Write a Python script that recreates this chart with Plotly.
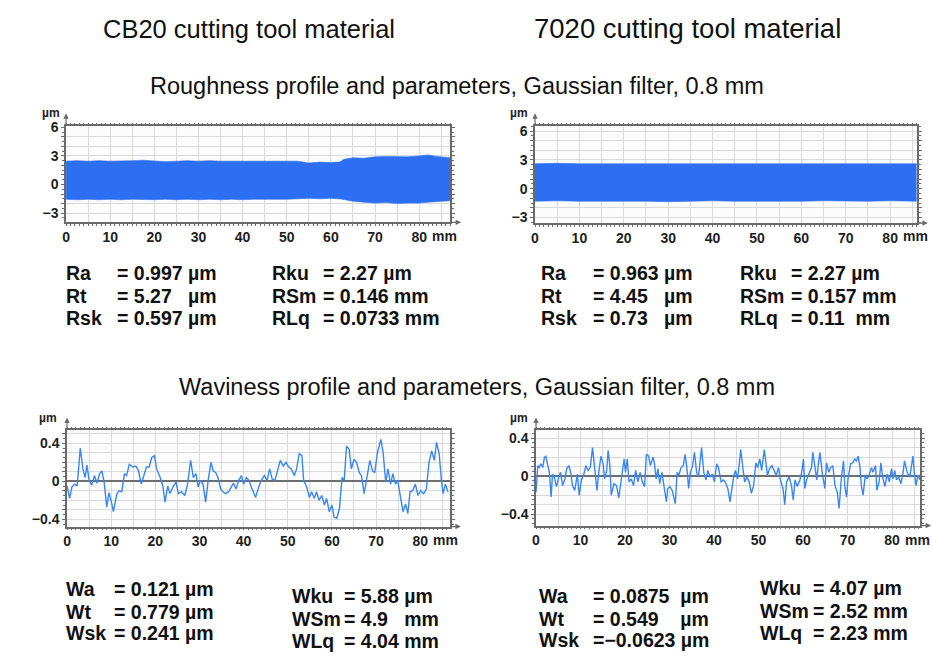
import plotly.graph_objects as go

# ---------------- data ----------------
# Roughness profiles (dense signal shown as its upper / lower envelope), mm vs µm
rough_cb20_x = [0, 2.5, 5, 7.5, 10, 12.5, 15, 17.5, 20, 22.5, 25, 27.5, 30, 32.5, 35, 37.5, 40, 42.5,
                45, 47.5, 50, 52.5, 55, 57.5, 60, 62, 63, 65, 67.5, 70, 72.5, 75, 77.5, 80, 82, 84, 87]
rough_cb20_upper = [2.45, 2.5, 2.45, 2.5, 2.45, 2.45, 2.5, 2.55, 2.45, 2.4, 2.45, 2.5, 2.45, 2.5, 2.45,
                    2.45, 2.5, 2.45, 2.45, 2.5, 2.45, 2.45, 2.25, 2.35, 2.3, 2.35, 2.65, 2.8, 2.75, 2.9,
                    2.95, 2.95, 2.9, 3.0, 3.1, 2.95, 2.8]
rough_cb20_lower = [-1.55, -1.6, -1.55, -1.6, -1.55, -1.6, -1.55, -1.6, -1.6, -1.55, -1.6, -1.55, -1.6,
                    -1.55, -1.6, -1.55, -1.6, -1.55, -1.55, -1.6, -1.55, -1.5, -1.45, -1.5, -1.45, -1.5,
                    -1.6, -1.75, -1.85, -1.95, -1.9, -2.0, -1.95, -1.95, -1.85, -1.8, -1.7]

rough_7020_x = [0, 5, 10, 15, 20, 25, 30, 35, 40, 45, 50, 55, 60, 65, 70, 75, 80, 85, 86]
rough_7020_upper = [2.6, 2.65, 2.6, 2.6, 2.65, 2.6, 2.6, 2.65, 2.6, 2.6, 2.65, 2.6, 2.6, 2.65, 2.6,
                    2.6, 2.65, 2.6, 2.6]
rough_7020_lower = [-1.3, -1.25, -1.3, -1.3, -1.25, -1.3, -1.35, -1.3, -1.25, -1.3, -1.3, -1.35, -1.3,
                    -1.25, -1.3, -1.3, -1.25, -1.3, -1.3]

# Waviness profiles, mm vs µm
wav_cb20_x = [0, 0.6, 1.1, 1.7, 2.3, 3.0, 3.6, 4.1, 4.5, 5.0, 5.6, 6.2, 6.8, 7.4, 7.9, 8.4, 9.0, 9.5,
              10.2, 10.5, 11.3, 11.8, 12.4, 13.0, 13.5, 14.1, 14.9, 15.6, 16.2, 16.8, 17.4, 18.0, 18.6,
              19.2, 19.8, 20.3, 21.1, 21.7, 22.2, 22.8, 23.3, 24.1, 24.7, 25.2, 25.9, 26.7, 27.3, 28.0,
              28.6, 29.2, 29.7, 30.2, 30.8, 31.4, 32.0, 32.6, 33.1, 33.7, 34.2, 34.8, 35.3, 35.9, 36.6,
              37.2, 37.7, 38.3, 38.9, 39.5, 40.0, 40.6, 41.2, 41.9, 42.7, 43.5, 44.0, 44.7, 45.3, 45.9,
              46.5, 47.1, 47.7, 48.3, 49.0, 49.6, 50.2, 50.8, 51.5, 52.0, 52.6, 53.2, 53.6, 54.3, 54.9,
              55.4, 56.0, 56.5, 57.1, 57.7, 58.3, 58.8, 59.4, 60.0, 60.5, 61.1, 61.7, 62.3, 62.8, 63.3,
              63.9, 64.4, 65.0, 65.6, 66.2, 66.7, 67.3, 67.9, 68.6, 69.2, 69.7, 70.3, 71.1, 71.6, 72.2,
              72.7, 73.3, 73.8, 74.4, 74.9, 75.5, 76.1, 76.7, 77.2, 77.7, 78.3, 78.9, 79.5, 80.1, 80.8,
              81.4, 82.0, 82.6, 83.2, 83.7, 84.3, 84.8, 85.2, 85.7, 86.3]
wav_cb20_y = [-0.05, -0.18, -0.06, -0.03, -0.05, 0.35, 0.13, 0.04, 0.17, 0.01, -0.04, 0.06, -0.02, 0.08,
              0.11, -0.01, -0.27, -0.12, -0.25, -0.32, -0.13, -0.10, -0.11, 0.08, 0.06, 0.18, 0.15, 0.16,
              0.11, -0.03, 0.06, 0.15, 0.15, 0.25, 0.27, 0.13, 0.04, -0.05, -0.22, -0.05, -0.13, -0.05,
              -0.01, -0.13, -0.11, -0.15, -0.03, 0.22, 0.04, 0.08, -0.06, 0.01, -0.03, -0.22, 0.02, 0.20,
              0.11, 0.09, 0.04, -0.08, -0.11, -0.13, -0.11, -0.06, -0.02, -0.08, 0.01, 0.06, -0.03, 0.04,
              0.01, -0.08, -0.17, -0.05, 0.01, 0.06, 0.01, 0.13, 0.02, 0.01, 0.11, 0.22, 0.16, 0.20, 0.15,
              0.13, 0.06, 0.13, 0.29, 0.27, 0.01, -0.06, -0.17, -0.11, -0.18, -0.11, -0.20, -0.15, -0.25,
              -0.18, -0.32, -0.25, -0.38, -0.39, -0.29, 0.04, 0.01, 0.37, 0.34, 0.13, 0.23, 0.20, 0.09,
              0.06, -0.13, 0.04, 0.22, 0.11, 0.09, 0.30, 0.44, 0.30, -0.01, 0.13, -0.03, 0.08, -0.03, 0.01,
              -0.17, -0.32, -0.24, -0.34, -0.11, -0.10, -0.03, -0.15, -0.10, -0.13, -0.08, 0.20, 0.32,
              0.22, 0.41, 0.29, 0.01, -0.13, -0.03, -0.11]

wav_7020_x = [0, 0.4, 0.7, 1.1, 1.5, 1.9, 2.2, 2.6, 3.0, 3.4, 3.7, 4.1, 4.6, 5.0, 5.5, 6.0, 6.5, 6.9, 7.4,
              7.8, 8.2, 8.7, 9.3, 9.7, 10.2, 10.7, 11.2, 11.7, 12.2, 12.7, 13.2, 13.7, 14.1, 14.6, 15.1,
              15.4, 15.9, 16.2, 16.6, 16.9, 17.5, 18.1, 18.6, 19.0, 19.4, 19.8, 20.1, 20.5, 20.9, 21.4,
              21.9, 22.4, 22.9, 23.4, 23.9, 24.4, 24.8, 25.3, 25.7, 26.3, 26.6, 27.0, 27.4, 27.8, 28.3,
              28.7, 29.3, 29.6, 30.1, 30.6, 31.0, 31.3, 31.7, 32.1, 32.6, 33.1, 33.5, 33.9, 34.3, 34.7,
              35.2, 35.6, 36.1, 36.5, 36.9, 37.2, 37.7, 38.2, 38.6, 39.1, 39.6, 40.1, 40.6, 41.0, 41.6,
              42.1, 42.5, 43.1, 43.6, 44.0, 44.4, 44.8, 45.3, 45.7, 46.0, 46.6, 46.9, 47.4, 47.9, 48.4,
              48.9, 49.4, 49.8, 50.3, 50.7, 51.3, 51.6, 52.0, 52.5, 53.0, 53.5, 54.0, 54.5, 55.0, 55.5,
              55.9, 56.3, 56.9, 57.4, 57.8, 58.2, 58.7, 59.3, 59.7, 60.1, 60.4, 60.8, 61.3, 61.9, 62.2,
              62.7, 63.1, 63.4, 63.8, 64.3, 64.9, 65.3, 65.8, 66.2, 66.7, 67.2, 67.7, 68.1, 68.6, 69.1,
              69.4, 69.8, 70.1, 70.7, 71.2, 71.6, 72.0, 72.4, 72.8, 73.1, 73.5, 74.0, 74.4, 74.9, 75.4,
              75.7, 76.3, 76.6, 77.1, 77.5, 77.9, 78.4, 78.9, 79.4, 79.9, 80.2, 80.6, 81.0, 81.5, 82.0,
              82.5, 82.8, 83.4, 84.0, 84.3, 84.7, 85.0, 85.4, 85.8, 86.3]
wav_7020_y = [-0.17, 0.11, 0.09, 0.13, 0.09, 0.20, 0.21, 0.11, 0.04, -0.22, 0.02, -0.01, -0.11, -0.03,
              0.04, -0.10, -0.03, 0.08, 0.11, 0.04, -0.10, -0.15, 0.02, -0.20, -0.04, 0.01, 0.11, 0.06,
              0.09, 0.30, 0.04, -0.15, 0.04, 0.21, 0.13, -0.03, 0.06, 0.27, 0.11, -0.20, -0.08, -0.10,
              -0.23, -0.10, 0.01, 0.18, 0.04, 0.18, -0.06, -0.03, -0.10, 0.06, -0.06, 0.04, -0.06, -0.11,
              0.23, 0.21, 0.11, 0.20, 0.14, -0.03, 0.08, -0.08, 0.04, -0.10, -0.27, -0.13, -0.11, -0.15,
              -0.23, -0.29, 0.04, 0.01, 0.09, 0.11, 0.23, 0.09, -0.13, 0.04, 0.11, 0.25, 0.04, -0.01, 0.16,
              0.30, 0.04, -0.04, 0.06, -0.01, 0.02, -0.06, 0.13, 0.09, -0.06, -0.04, -0.06, -0.13, -0.27,
              -0.13, -0.01, 0.06, -0.03, 0.14, 0.28, 0.04, -0.06, -0.01, -0.06, -0.18, -0.10, 0.14, 0.09,
              0.18, 0.06, 0.28, 0.16, 0.01, 0.08, 0.11, 0.06, 0.01, 0.09, -0.06, -0.13, -0.30, -0.06, -0.01,
              -0.10, -0.25, -0.04, -0.11, -0.04, 0.04, 0.18, -0.13, -0.04, 0.02, 0.09, 0.25, 0.06, -0.04,
              0.11, 0.25, 0.04, -0.13, 0.14, 0.04, 0.09, 0.11, -0.10, -0.17, -0.34, -0.03, 0.16, -0.11,
              -0.22, -0.03, 0.13, 0.14, 0.18, 0.16, 0.21, 0.09, -0.10, -0.20, 0.01, -0.03, 0.02, 0.09, 0.04,
              0.11, -0.15, -0.06, 0.14, -0.01, -0.11, 0.02, -0.06, 0.08, -0.03, 0.06, -0.04, -0.01, -0.08,
              0.04, 0.16, 0.04, -0.01, 0.09, 0.21, 0.04, -0.10, 0.01, -0.04]

# Tick labels
x_tickvals = [0, 5, 10, 15, 20, 25, 30, 35, 40, 45, 50, 55, 60, 65, 70, 75, 80, 85]
x_ticktext = ["0", "", "10", "", "20", "", "30", "", "40", "", "50", "", "60", "", "70", "", "80", ""]
rough_y_tickvals = [-3, -2, -1, 0, 1, 2, 3, 4, 5, 6]
rough_y_ticktext = ["\u22123", "", "", "0", "", "", "3", "", "", "6"]
wav_y_tickvals = [-0.4, -0.3, -0.2, -0.1, 0, 0.1, 0.2, 0.3, 0.4, 0.5]
wav_y_ticktext = ["\u22120.4", "", "", "", "0", "", "", "", "0.4", ""]

# Titles and parameter texts
col_titles = ["CB20 cutting tool material", "7020 cutting tool material"]
row_titles = ["Roughness profile and parameters, Gaussian filter, 0.8 mm",
              "Waviness profile and parameters, Gaussian filter, 0.8 mm"]

r_cb20_names_a = ["Ra", "Rt", "Rsk"]
r_cb20_vals_a = ["= 0.997 µm", "= 5.27   µm", "= 0.597 µm"]
r_cb20_names_b = ["Rku", "RSm", "RLq"]
r_cb20_vals_b = ["= 2.27 µm", "= 0.146 mm", "= 0.0733 mm"]

r_7020_names_a = ["Ra", "Rt", "Rsk"]
r_7020_vals_a = ["= 0.963 µm", "= 4.45   µm", "= 0.73   µm"]
r_7020_names_b = ["Rku", "RSm", "RLq"]
r_7020_vals_b = ["= 2.27 µm", "= 0.157 mm", "= 0.11  mm"]

w_cb20_names_a = ["Wa", "Wt", "Wsk"]
w_cb20_vals_a = ["= 0.121 µm", "= 0.779 µm", "= 0.241 µm"]
w_cb20_names_b = ["Wku", "WSm", "WLq"]
w_cb20_vals_b = ["= 5.88 µm", "= 4.9   mm", "= 4.04 mm"]

w_7020_names_a = ["Wa", "Wt", "Wsk"]
w_7020_vals_a = ["= 0.0875  µm", "= 0.549    µm", "=\u22120.0623 µm"]
w_7020_names_b = ["Wku", "WSm", "WLq"]
w_7020_vals_b = ["= 4.07 µm", "= 2.52 mm", "= 2.23 mm"]

# ---------------- style ----------------
W, H = 932, 664
FONT = "Arial, Liberation Sans, sans-serif"
BAND = "#2d6ff2"
WAVE = "#3a86f6"
GRID = "#dadada"
LINE = "#6a6a6a"

fig = go.Figure()


def add_band(x, lo, hi, ax):
    fig.add_trace(go.Scatter(x=x, y=lo, mode="lines", line=dict(width=0.6, color=BAND),
                             xaxis="x" + ax, yaxis="y" + ax, hoverinfo="skip", showlegend=False))
    fig.add_trace(go.Scatter(x=x, y=hi, mode="lines", line=dict(width=0.6, color=BAND),
                             fill="tonexty", fillcolor=BAND,
                             xaxis="x" + ax, yaxis="y" + ax, hoverinfo="skip", showlegend=False))


add_band(rough_cb20_x, rough_cb20_lower, rough_cb20_upper, "")
add_band(rough_7020_x, rough_7020_lower, rough_7020_upper, "2")
fig.add_trace(go.Scatter(x=wav_cb20_x, y=wav_cb20_y, mode="lines", line=dict(width=1.4, color=WAVE),
                         xaxis="x3", yaxis="y3", showlegend=False))
fig.add_trace(go.Scatter(x=wav_7020_x, y=wav_7020_y, mode="lines", line=dict(width=1.4, color=WAVE),
                         xaxis="x4", yaxis="y4", showlegend=False))

tickfont = dict(family=FONT, size=14, color="#1e1e1e", weight="bold")


def xaxis(domain, rng, anchor):
    return dict(domain=domain, range=rng, anchor=anchor, tickmode="array",
                tickvals=x_tickvals, ticktext=x_ticktext, showgrid=True, gridcolor=GRID,
                gridwidth=1, showline=True, linecolor=LINE, linewidth=1.5, mirror="allticks",
                ticks="outside", ticklen=1, tickcolor=LINE, tickwidth=1,
                minor=dict(dtick=1, tick0=0, ticks="outside", ticklen=2, tickcolor=LINE, showgrid=False),
                tickfont=tickfont, zeroline=False, fixedrange=True)


def yaxis(domain, rng, anchor, tv, tt, mdt, zero):
    return dict(domain=domain, range=rng, anchor=anchor, tickmode="array",
                tickvals=tv, ticktext=tt, showgrid=True, gridcolor=GRID, gridwidth=1,
                showline=True, linecolor=LINE, linewidth=1.5, mirror="allticks",
                ticks="outside", ticklen=3, tickcolor=LINE, tickwidth=1,
                minor=dict(dtick=mdt, tick0=0, ticks="outside", ticklen=2, tickcolor=LINE, showgrid=False),
                tickfont=tickfont, zeroline=zero, zerolinecolor="#6e6e6e", zerolinewidth=2,
                fixedrange=True)


def px_x(a, b):
    return [a / W, b / W]


def px_y(top, bottom):
    return [1 - bottom / H, 1 - top / H]


fig.update_layout(
    width=W, height=H, margin=dict(l=0, r=0, t=0, b=0),
    paper_bgcolor="white", plot_bgcolor="#fcfcfc", showlegend=False,
    xaxis=xaxis(px_x(62.3, 448), [0, 87], "y"),
    yaxis=yaxis(px_y(121, 218.3), [-3.97, 6.1], "x", rough_y_tickvals, rough_y_ticktext, 0.5, False),
    xaxis2=xaxis(px_x(533.3, 916.7), [0, 86], "y2"),
    yaxis2=yaxis(px_y(121, 219), [-3.57, 6.5], "x2", rough_y_tickvals, rough_y_ticktext, 0.5, False),
    xaxis3=xaxis(px_x(63.3, 447.7), [0, 86.7], "y3"),
    yaxis3=yaxis(px_y(429.3, 526.7), [-0.477, 0.535], "x3", wav_y_tickvals, wav_y_ticktext, 0.05, True),
    xaxis4=xaxis(px_x(534.3, 920), [0, 86.3], "y4"),
    yaxis4=yaxis(px_y(429.3, 525.7), [-0.52, 0.48], "x4", wav_y_tickvals, wav_y_ticktext, 0.05, True),
)

ann = []


def text(x_px, y_px, s, size, anchor="left", bold=False):
    ann.append(dict(xref="paper", yref="paper", x=x_px / W, y=1 - y_px / H, text=s.replace(" ", "\u00a0"),
                    showarrow=False, xanchor=anchor, yanchor="middle",
                    font=dict(family=FONT, size=size, color="#111", weight="bold" if bold else "normal")))


# Titles
text(246, 22, col_titles[0], 25.5, "center")
text(686, 22, col_titles[1], 27.5, "center")
text(455, 80, row_titles[0], 23.5, "center")
text(475, 385, row_titles[1], 23.5, "center")


def block(names, vals, xn, xv, ys, size=19.5):
    for n, v, yy in zip(names, vals, ys):
        text(xn, yy, n, size, bold=True)
        text(xv, yy, v, size, bold=True)


block(r_cb20_names_a, r_cb20_vals_a, 60, 111.5, [270, 293, 315])
block(r_cb20_names_b, r_cb20_vals_b, 267, 318, [270, 293, 315])
block(r_7020_names_a, r_7020_vals_a, 537, 590, [270, 293, 315])
block(r_7020_names_b, r_7020_vals_b, 737, 788, [270, 293, 315])
block(w_cb20_names_a, w_cb20_vals_a, 60, 108, [590, 613, 635])
block(w_cb20_names_b, w_cb20_vals_b, 287, 339, [597, 620, 643])
block(w_7020_names_a, w_7020_vals_a, 535, 590, [597, 620, 642])
block(w_7020_names_b, w_7020_vals_b, 757, 810, [589, 612, 635])

# Axis unit labels, arrows and the "mm" suffix of the last x tick label
for ax, unit_x, unit_y, lab_y in [("", 58, 107, 232), ("2", 528, 107, 232),
                                  ("3", 55, 417, 540), ("4", 528, 417, 540)]:
    ann.append(dict(xref="paper", yref="paper", x=unit_x / W, y=1 - unit_y / H, text="µm",
                    showarrow=False, xanchor="right", yanchor="middle",
                    font=dict(family=FONT, size=12, color="#222", weight="bold")))
    ann.append(dict(xref="x" + ax + " domain", yref="y" + ax + " domain", x=0, y=1, yshift=13,
                    text="", showarrow=True, ax=0, ay=13, arrowhead=2, arrowsize=0.9,
                    arrowwidth=1.2, arrowcolor=LINE))
    ann.append(dict(xref="x" + ax + " domain", yref="y" + ax + " domain", x=1, y=0, xshift=11,
                    text="", showarrow=True, ax=-11, ay=0, arrowhead=2, arrowsize=0.9,
                    arrowwidth=1.2, arrowcolor=LINE))
    ann.append(dict(xref="x" + ax, yref="paper", x=80, y=1 - lab_y / H, xshift=11,
                    text="mm", showarrow=False, xanchor="left", yanchor="middle",
                    font=dict(family=FONT, size=14, color="#1e1e1e", weight="bold")))

fig.update_layout(annotations=ann)
fig.write_html("out.html")
